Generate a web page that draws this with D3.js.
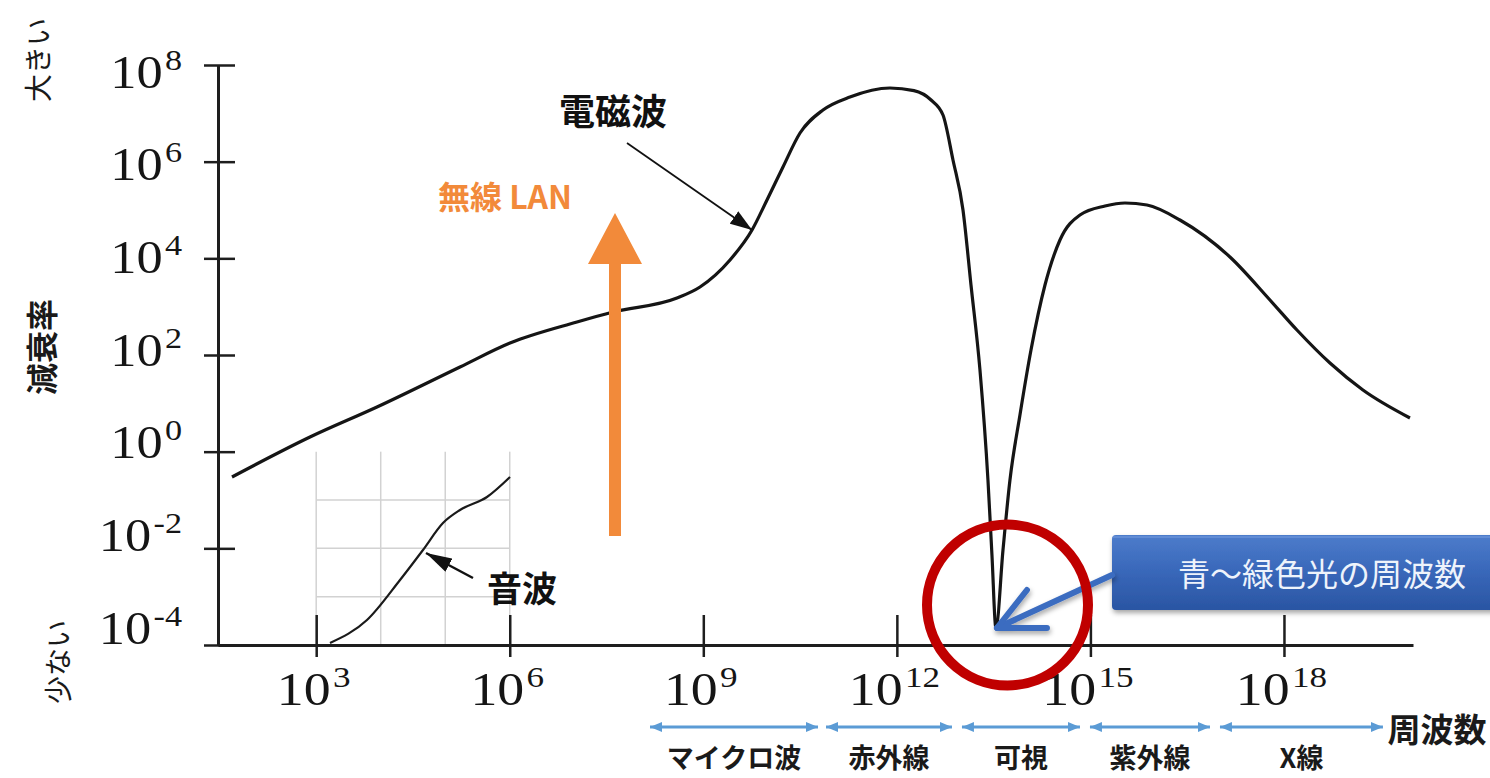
<!DOCTYPE html>
<html><head><meta charset="utf-8">
<script src="https://cdn.jsdelivr.net/npm/d3@7"></script>
<style>body{margin:0;background:#fff;overflow:hidden}</style>
</head><body>
<svg id="c" width="1490" height="778"></svg>
<script>
// ---------- DATA (log10 values) ----------
const emFreqExp  = [1.695, 2.904, 3.942, 5.229, 6.004, 7.042, 7.600, 8.592, 8.949, 9.414, 9.755, 9.987, 10.235, 10.499, 10.855, 11.273, 11.893, 12.265, 12.530, 12.715, 12.870, 13.025, 13.149, 13.288, 13.412, 13.474, 13.536, 13.645, 13.753, 13.908, 14.079, 14.296, 14.528, 14.838, 15.226, 15.536, 15.877, 16.388, 17.163, 17.783, 18.201, 18.713, 19.224, 19.953];
const emAttenExp = [-0.524, 0.303, 0.924, 1.752, 2.248, 2.683, 2.890, 3.179, 3.407, 3.966, 4.586, 5.207, 5.890, 6.593, 7.069, 7.338, 7.524, 7.470, 7.276, 6.965, 6.034, 5.000, 3.448, 1.690, -0.586, -2.138, -3.648, -2.034, -0.586, 0.759, 2.103, 3.448, 4.379, 4.897, 5.083, 5.145, 5.103, 4.793, 4.028, 3.138, 2.517, 1.834, 1.276, 0.697];
const soundFreqExp  = [3.214, 3.787, 4.299, 4.655, 4.965, 5.229, 5.647, 6.004];
const soundAttenExp = [-3.959, -3.483, -2.655, -2.034, -1.476, -1.207, -0.938, -0.524];
const soundGridFreqExp  = [3, 4, 5, 6];
const soundGridAttenExp = [-1, -2, -3];
const xTickExp = [3, 6, 9, 12, 15, 18];
const yTickExp = [8, 6, 4, 2, 0, -2, -4];
const bandNames = ["マイクロ波", "赤外線", "可視", "紫外線", "X線"];
const bandStartExp = [8.174, 10.902, 13.009, 14.993, 17.008];
const bandEndExp   = [10.778, 12.854, 14.838, 16.853, 19.534];
const emLabel = "電磁波";
const soundLabel = "音波";
const wifiLabel = "無線 LAN";
const calloutLabel = "青～緑色光の周波数";
const yTitle = "減衰率";
const yTopLabel = "大きい";
const yBottomLabel = "少ない";
const xTitle = "周波数";

// ---------- SETUP ----------
const svg = d3.select("#c");
const JP = "'Noto Sans CJK JP','Noto Sans CJK SC',sans-serif";
const SERIF = "'Liberation Serif','DejaVu Serif',serif";
const AX = "#1e1e1e";

const x = d3.scaleLog().domain([10 ** 1.478, 10 ** 20.0]).range([218, 1413]);
const y = d3.scaleLog().domain([1e-4, 1e8]).range([645, 65]);
const yLabel = d3.scaleLinear().domain([-4, 8]).range([643, 87]); // baseline of y tick labels
const px = e => x(10 ** e), py = e => y(10 ** e);

const defs = svg.append("defs");
function arrowMarker(id, len, wid, color) {
  defs.append("marker").attr("id", id).attr("markerUnits", "userSpaceOnUse")
    .attr("viewBox", `0 0 ${len} ${wid}`).attr("markerWidth", len).attr("markerHeight", wid)
    .attr("refX", len).attr("refY", wid / 2).attr("orient", "auto-start-reverse")
    .append("path").attr("d", `M0,0L${len},${wid / 2}L0,${wid}Z`).attr("fill", color);
}
arrowMarker("blueHead", 12, 10, "#5b9bd5");
arrowMarker("blackHead", 22, 15, "#111");
arrowMarker("blackHead2", 26, 15, "#111");

const grad = defs.append("linearGradient").attr("id", "boxGrad").attr("x1", 0).attr("y1", 0).attr("x2", 0).attr("y2", 1);
grad.append("stop").attr("offset", "0%").attr("stop-color", "#4d7ccb");
grad.append("stop").attr("offset", "45%").attr("stop-color", "#3a69bb");
grad.append("stop").attr("offset", "100%").attr("stop-color", "#2a55a3");
const shadow = defs.append("filter").attr("id", "sh").attr("x", "-10%").attr("y", "-20%").attr("width", "130%").attr("height", "160%");
shadow.append("feDropShadow").attr("dx", 1).attr("dy", 3).attr("stdDeviation", 2.5).attr("flood-color", "#000").attr("flood-opacity", 0.35);

// ---------- SOUND INSET GRID ----------
const gGrid = svg.append("g").attr("stroke", "#d2d2d2").attr("stroke-width", 1.5);
gGrid.selectAll("line.v").data(soundGridFreqExp).join("line")
  .attr("x1", d => px(d)).attr("x2", d => px(d)).attr("y1", py(0)).attr("y2", py(-4));
gGrid.selectAll("line.h").data(soundGridAttenExp).join("line").attr("class", "h")
  .attr("x1", px(3)).attr("x2", px(6)).attr("y1", d => py(d)).attr("y2", d => py(d));

// ---------- AXES ----------
function powerLabel(sel, e, anchor) {
  const t = sel.append("text").attr("text-anchor", anchor)
    .attr("font-family", SERIF).attr("font-size", 46).attr("fill", "#151515");
  t.append("tspan").text("10");
  t.append("tspan").attr("font-size", 30).attr("dy", -18).attr("dx", 2).text(e < 0 ? "-" + (-e) : e);
  return t;
}
const xAxis = d3.axisBottom(x).tickValues(xTickExp.map(e => 10 ** e)).tickSizeOuter(0).tickFormat("");
const gx = svg.append("g").attr("transform", `translate(0,${y(1e-4)})`).call(xAxis);
gx.select(".domain").attr("stroke", AX).attr("stroke-width", 3);
gx.selectAll(".tick line").attr("y1", -30).attr("y2", 12).attr("stroke", AX).attr("stroke-width", 2.5);
gx.selectAll(".tick text").remove();
gx.selectAll(".tick").each(function (d) {
  const e = Math.round(Math.log10(d));
  const g = d3.select(this).append("g").attr("transform", "translate(-3,60) scale(1.17,1)");
  powerLabel(g, e, "middle");
});

const yAxis = d3.axisLeft(y).tickValues(yTickExp.map(e => 10 ** e)).tickSizeOuter(0).tickFormat("");
const gy = svg.append("g").attr("transform", `translate(${x(10 ** 1.478)},0)`).call(yAxis);
gy.select(".domain").attr("stroke", AX).attr("stroke-width", 3);
gy.selectAll(".tick line").attr("x1", 17).attr("x2", -14).attr("stroke", AX).attr("stroke-width", 2.5);
gy.selectAll(".tick text").remove();
gy.selectAll(".tick").each(function (d) {
  const e = Math.round(Math.log10(d));
  const g = d3.select(this).append("g").attr("transform", `translate(-36,${yLabel(e) - y(d)}) scale(1.14,1)`);
  powerLabel(g, e, "end");
});

// ---------- CURVES ----------
const line = d3.line().x(d => px(d[0])).y(d => py(d[1])).curve(d3.curveMonotoneX);
svg.append("path").datum(soundFreqExp.map((f, i) => [f, soundAttenExp[i]]))
  .attr("d", line).attr("fill", "none").attr("stroke", "#1a1a1a").attr("stroke-width", 2.2);
svg.append("path").datum(emFreqExp.map((f, i) => [f, emAttenExp[i]]))
  .attr("d", line).attr("fill", "none").attr("stroke", "#151515").attr("stroke-width", 3.2)
  .attr("stroke-linejoin", "round");

// ---------- ANNOTATIONS ----------
// 電磁波
svg.append("text").attr("x", 613).attr("y", 125).attr("text-anchor", "middle")
  .attr("font-family", JP).attr("font-weight", "bold").attr("font-size", 36).attr("fill", "#111").text(emLabel);
svg.append("line").attr("x1", 627).attr("y1", 143).attr("x2", px(9.755)).attr("y2", py(4.586))
  .attr("stroke", "#111").attr("stroke-width", 1.8).attr("marker-end", "url(#blackHead)");

// 音波
svg.append("text").attr("x", 522).attr("y", 602).attr("text-anchor", "middle")
  .attr("font-family", JP).attr("font-weight", "bold").attr("font-size", 35).attr("fill", "#111").text(soundLabel);
svg.append("line").attr("x1", 473).attr("y1", 578).attr("x2", 426).attr("y2", 553)
  .attr("stroke", "#111").attr("stroke-width", 2.5).attr("marker-end", "url(#blackHead2)");

// 無線 LAN orange arrow
const OR = "#f28a3a";
svg.append("path").attr("d", "M609,536 L609,264 L588,264 L615,213 L642,264 L621,264 L621,536 Z").attr("fill", OR);
svg.append("text").attr("x", 505).attr("y", 209).attr("text-anchor", "middle")
  .attr("font-family", JP).attr("font-weight", "bold").attr("font-size", 32).attr("fill", OR).text(wifiLabel);

// Callout box
svg.append("rect").attr("x", 1112).attr("y", 535).attr("width", 400).attr("height", 75).attr("rx", 4)
  .attr("fill", "url(#boxGrad)").attr("filter", "url(#sh)");
svg.append("rect").attr("x", 1113).attr("y", 536).attr("width", 400).attr("height", 2).attr("fill", "#6f97dc").attr("opacity", 0.6);
svg.append("text").attr("x", 1178).attr("y", 586).attr("font-family", JP).attr("font-size", 32)
  .attr("fill", "#eef3fb").text(calloutLabel);

// Callout arrow (open chevron)
const tip = [px(13.536) + 1, py(-3.648)];
svg.append("g").attr("stroke", "#3b6cc0").attr("stroke-width", 6).attr("stroke-linecap", "round")
  .attr("stroke-linejoin", "round").attr("fill", "none").attr("filter", "url(#sh)")
  .call(g => {
    g.append("path").attr("d", `M1112,575 L${tip[0]},${tip[1]}`);
    g.append("path").attr("d", `M${tip[0] + 30},${tip[1] - 38} L${tip[0]},${tip[1]} L${tip[0] + 50},${tip[1]}`);
  });

// Red circle
svg.append("circle").attr("cx", 1007.5).attr("cy", 605).attr("r", 80.5)
  .attr("fill", "none").attr("stroke", "#c00000").attr("stroke-width", 10);

// ---------- BANDS ----------
const gb = svg.append("g");
gb.selectAll("line").data(bandNames).join("line")
  .attr("x1", (d, i) => px(bandStartExp[i])).attr("x2", (d, i) => px(bandEndExp[i]))
  .attr("y1", 727).attr("y2", 727).attr("stroke", "#5b9bd5").attr("stroke-width", 3)
  .attr("marker-start", "url(#blueHead)").attr("marker-end", "url(#blueHead)");
gb.selectAll("text").data(bandNames).join("text")
  .attr("x", (d, i) => (px(bandStartExp[i]) + px(bandEndExp[i])) / 2).attr("y", 768)
  .attr("text-anchor", "middle").attr("font-family", JP).attr("font-weight", "bold")
  .attr("font-size", 27).attr("fill", "#1a1a1a").text(d => d);

svg.append("text").attr("x", 1437).attr("y", 742).attr("text-anchor", "middle")
  .attr("font-family", JP).attr("font-weight", "bold").attr("font-size", 33).attr("fill", "#1a1a1a").text(xTitle);

// ---------- Y TITLES ----------
function vText(cx, cy, txt, size, weight) {
  svg.append("text").attr("transform", `translate(${cx},${cy}) rotate(-90)`)
    .attr("text-anchor", "middle").attr("dominant-baseline", "central")
    .attr("font-family", JP).attr("font-weight", weight).attr("font-size", size).attr("fill", "#1a1a1a").text(txt);
}
vText(40, 347, yTitle, 32, "bold");
vText(37, 60, yTopLabel, 28, "normal");
vText(57, 662, yBottomLabel, 28, "normal");
</script>
</body></html>
